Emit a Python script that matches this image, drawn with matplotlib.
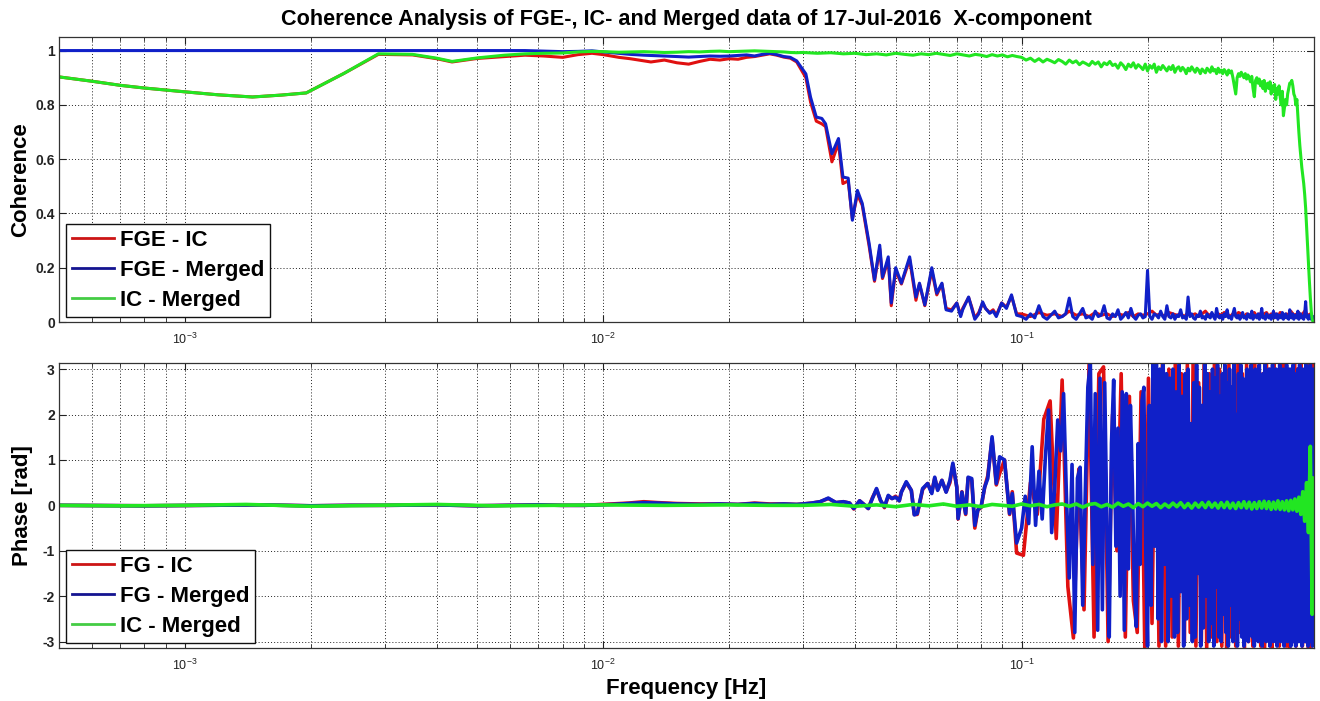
import numpy as np
import matplotlib
matplotlib.use("Agg")
import matplotlib.pyplot as plt
from matplotlib.lines import Line2D
from matplotlib.ticker import LogLocator, NullFormatter

plt.rcParams['font.family'] = ['Liberation Sans', 'DejaVu Sans']
plt.rcParams['mathtext.fontset'] = 'custom'
plt.rcParams['mathtext.rm'] = 'Liberation Sans'
plt.rcParams['mathtext.it'] = 'Liberation Sans'

# ---------------- data: coherence ----------------
F_LOW = [5.0e-4, 6.0e-4, 7.0e-4, 8.0e-4, 1.0e-3, 1.2e-3, 1.45e-3, 1.7e-3, 1.95e-3, 2.4e-3,
         2.9e-3, 3.5e-3, 4.0e-3, 4.35e-3, 5.0e-3, 5.8e-3, 6.5e-3, 7.2e-3, 8.0e-3, 8.7e-3,
         9.4e-3, 1.0e-2, 1.09e-2, 1.16e-2, 1.25e-2, 1.3e-2, 1.4e-2, 1.5e-2, 1.6e-2, 1.7e-2,
         1.8e-2, 1.9e-2, 2.0e-2, 2.1e-2, 2.2e-2, 2.3e-2, 2.4e-2, 2.5e-2, 2.6e-2, 2.7e-2,
         2.8e-2, 2.9e-2]
COH_GREEN_LOW = [0.903, 0.887, 0.872, 0.862, 0.848, 0.837, 0.829, 0.836, 0.844, 0.916,
                 0.988, 0.986, 0.972, 0.960, 0.973, 0.983, 0.988, 0.990, 0.991, 0.995,
                 0.997, 0.996, 0.994, 0.995, 0.996, 0.995, 0.993, 0.994, 0.996, 0.995,
                 0.997, 0.998, 0.996, 0.997, 0.998, 0.999, 0.998, 0.997, 0.996, 0.995,
                 0.993, 0.992]
COH_BLUE_LOW = [1.0, 1.0, 1.0, 1.0, 1.0, 1.0, 1.0, 1.0, 1.0, 1.0,
                1.0, 1.0, 1.0, 1.0, 1.0, 1.0, 1.0, 0.998, 0.996, 0.997,
                0.999, 0.995, 0.99, 0.986, 0.983, 0.982, 0.98, 0.978, 0.976, 0.978,
                0.98, 0.979, 0.98, 0.982, 0.984, 0.98, 0.986, 0.99, 0.985, 0.978,
                0.975, 0.962]
COH_RED_LOW = [0.903, 0.887, 0.872, 0.862, 0.848, 0.837, 0.829, 0.836, 0.844, 0.916,
               0.986, 0.984, 0.970, 0.958, 0.971, 0.978, 0.983, 0.980, 0.975, 0.985,
               0.99, 0.985, 0.975, 0.97, 0.962, 0.958, 0.965, 0.955, 0.95, 0.96,
               0.968, 0.965, 0.97, 0.968, 0.975, 0.978, 0.983, 0.988, 0.983, 0.976,
               0.972, 0.958]

F_MID = [0.0305, 0.0313, 0.0323, 0.0333, 0.034, 0.0352, 0.0365, 0.0374, 0.0385, 0.0394,
         0.0405, 0.0416, 0.0432, 0.0445, 0.0458, 0.0465, 0.048, 0.0488, 0.050, 0.0516,
         0.054, 0.0559, 0.057, 0.0587, 0.061, 0.0627, 0.0645, 0.066, 0.068, 0.070,
         0.0715, 0.0723, 0.0747, 0.076, 0.0773, 0.079, 0.0807, 0.082, 0.0839, 0.0855,
         0.087, 0.0896, 0.092, 0.0946, 0.0973]
COH_BLUE_MID = [0.914, 0.828, 0.755, 0.75, 0.73, 0.62, 0.676, 0.534, 0.53, 0.375,
                0.485, 0.437, 0.29, 0.155, 0.283, 0.165, 0.24, 0.07, 0.2, 0.143,
                0.24, 0.092, 0.143, 0.063, 0.2, 0.106, 0.143, 0.045, 0.04, 0.07,
                0.02, 0.045, 0.092, 0.05, 0.01, 0.03, 0.074, 0.05, 0.032, 0.04,
                0.02, 0.07, 0.05, 0.1, 0.025]
COH_RED_MID = [0.9, 0.81, 0.74, 0.73, 0.72, 0.59, 0.66, 0.51, 0.52, 0.38,
               0.47, 0.43, 0.28, 0.15, 0.27, 0.16, 0.23, 0.06, 0.19, 0.14,
               0.23, 0.08, 0.14, 0.06, 0.19, 0.1, 0.14, 0.05, 0.045, 0.07,
               0.025, 0.05, 0.09, 0.055, 0.015, 0.035, 0.07, 0.05, 0.035, 0.045,
               0.025, 0.07, 0.055, 0.095, 0.03]
# IC - Merged, 0.03 Hz .. 0.0975 Hz in 0.0025 Hz bins
COH_GREEN_MID = [0.993, 0.99, 0.992, 0.988, 0.99, 0.985, 0.988, 0.984, 0.99, 0.986,
                 0.983, 0.988, 0.985, 0.99, 0.986, 0.982, 0.988, 0.984, 0.98, 0.986,
                 0.983, 0.978, 0.985, 0.98, 0.984, 0.977, 0.982, 0.978]

# 0.1 Hz .. 0.5 Hz in 0.0025 Hz bins
COH_BLUE_HIGH = [0.02, 0.01, 0.03, 0.015, 0.06, 0.02, 0.01, 0.025, 0.04, 0.015,
                 0.02, 0.03, 0.088, 0.02, 0.01, 0.03, 0.05, 0.015, 0.02, 0.01,
                 0.04, 0.02, 0.025, 0.06, 0.015, 0.01, 0.03, 0.02, 0.045, 0.01,
                 0.02, 0.035, 0.015, 0.05, 0.02, 0.01, 0.025, 0.03, 0.015, 0.02,
                 0.19, 0.02, 0.01, 0.03, 0.025, 0.015, 0.04, 0.02, 0.01, 0.06,
                 0.02, 0.015, 0.03, 0.01, 0.025, 0.02, 0.045, 0.015, 0.02, 0.01,
                 0.092, 0.02, 0.03, 0.015, 0.01, 0.025, 0.02, 0.04, 0.015, 0.02,
                 0.01, 0.03, 0.02, 0.015, 0.035, 0.02, 0.01, 0.05, 0.02, 0.015,
                 0.025, 0.01, 0.03, 0.02, 0.045, 0.015, 0.02, 0.01, 0.03, 0.05,
                 0.02, 0.015, 0.025, 0.01, 0.02, 0.035, 0.015, 0.02, 0.01, 0.03,
                 0.02, 0.015, 0.04, 0.01, 0.025, 0.02, 0.015, 0.03, 0.01, 0.02,
                 0.05, 0.015, 0.02, 0.01, 0.03, 0.02, 0.015, 0.025, 0.01, 0.02,
                 0.04, 0.015, 0.02, 0.03, 0.01, 0.025, 0.02, 0.015, 0.035, 0.01,
                 0.02, 0.03, 0.015, 0.02, 0.01, 0.045, 0.02, 0.015, 0.03, 0.01,
                 0.02, 0.025, 0.015, 0.04, 0.01, 0.02, 0.03, 0.015, 0.02, 0.01,
                 0.03, 0.075, 0.02, 0.015, 0.01, 0.025, 0.02, 0.01, 0.015, 0.02,
                 0.0]
# 0.1 Hz .. 0.5 Hz in 0.005 Hz bins
COH_RED_HIGH = [0.03, 0.02, 0.035, 0.025, 0.03, 0.02, 0.04, 0.025, 0.03, 0.02,
                0.035, 0.025, 0.03, 0.02, 0.03, 0.025, 0.035, 0.02, 0.03, 0.025,
                0.03, 0.04, 0.025, 0.03, 0.02, 0.035, 0.03, 0.025, 0.03, 0.02,
                0.035, 0.025, 0.03, 0.02, 0.03, 0.04, 0.025, 0.03, 0.02, 0.03,
                0.025, 0.035, 0.03, 0.02, 0.03, 0.025, 0.035, 0.03, 0.02, 0.03,
                0.025, 0.03, 0.035, 0.02, 0.03, 0.025, 0.03, 0.035, 0.02, 0.03,
                0.025, 0.03, 0.02, 0.035, 0.03, 0.025, 0.03, 0.02, 0.04, 0.03,
                0.025, 0.03, 0.035, 0.02, 0.03, 0.04, 0.03, 0.025, 0.03, 0.02,
                0.0]
# 0.1 Hz .. 0.5 Hz in 0.0025 Hz bins
COH_GREEN_HIGH = [0.975, 0.965, 0.972, 0.96, 0.97, 0.958, 0.968, 0.962, 0.955, 0.967,
                  0.96, 0.95, 0.965, 0.955, 0.962, 0.948, 0.958, 0.952, 0.945, 0.96,
                  0.95, 0.958, 0.94, 0.955, 0.948, 0.96, 0.945, 0.95, 0.935, 0.955,
                  0.945, 0.93, 0.95, 0.94, 0.955, 0.935, 0.948, 0.94, 0.93, 0.95,
                  0.925, 0.945, 0.935, 0.95, 0.92, 0.94, 0.93, 0.945, 0.935, 0.925,
                  0.94, 0.93, 0.945, 0.92, 0.935, 0.94, 0.925, 0.938, 0.93, 0.915,
                  0.935, 0.925, 0.94, 0.93, 0.92, 0.935, 0.928, 0.915, 0.932, 0.925,
                  0.918, 0.935, 0.928, 0.92, 0.94, 0.925, 0.93, 0.915, 0.935, 0.92,
                  0.928, 0.915, 0.93, 0.922, 0.91, 0.928, 0.918, 0.925, 0.9, 0.87,
                  0.84, 0.9, 0.915, 0.905, 0.92, 0.91, 0.9, 0.915, 0.895, 0.91,
                  0.9, 0.885, 0.905, 0.86, 0.83, 0.89, 0.9, 0.88, 0.895, 0.87,
                  0.885, 0.86, 0.89, 0.85, 0.875, 0.88, 0.86, 0.885, 0.84, 0.87,
                  0.85, 0.875, 0.82, 0.86, 0.84, 0.87, 0.83, 0.8, 0.85, 0.76,
                  0.79, 0.82, 0.8, 0.84, 0.86, 0.88, 0.88, 0.89, 0.87, 0.84,
                  0.83, 0.8, 0.82, 0.76, 0.7, 0.65, 0.61, 0.57, 0.54, 0.51,
                  0.47, 0.42, 0.35, 0.28, 0.21, 0.15, 0.09, 0.04, 0.01, 0.0,
                  0.0]

# ---------------- data: phase ----------------
F_PH_LOW = [5e-4, 8e-4, 1.1e-3, 1.5e-3, 2e-3, 2.5e-3, 3e-3, 4e-3, 5e-3, 6e-3,
            7e-3, 8e-3, 9e-3, 0.0105, 0.0115, 0.0125, 0.0135, 0.015, 0.017, 0.019,
            0.021, 0.023, 0.025, 0.027, 0.029]
PH_BLUE_LOW = [0.0, -0.01, 0.0, 0.01, -0.01, 0.0, 0.0, 0.01, -0.01, 0.0,
               0.01, 0.0, 0.0, 0.02, 0.04, 0.06, 0.05, 0.03, 0.02, 0.03,
               0.02, 0.04, 0.02, 0.03, 0.02]
PH_RED_LOW = [0.0, -0.01, 0.0, 0.01, -0.01, 0.0, 0.0, 0.01, -0.01, 0.0,
              0.01, 0.0, 0.0, 0.03, 0.05, 0.08, 0.06, 0.04, 0.03, 0.03,
              0.02, 0.05, 0.03, 0.03, 0.02]
F_PH_GREEN_LOW = [5e-4, 7e-4, 1e-3, 1.4e-3, 2e-3, 2.8e-3, 4e-3, 5.5e-3, 7.5e-3, 0.01,
                  0.014, 0.02, 0.025]
PH_GREEN_LOW = [0.0, -0.01, 0.0, 0.02, -0.02, 0.0, 0.02, -0.01, 0.0, 0.01,
                0.0, 0.01, 0.0]

F_PH_MID = [0.030, 0.0315, 0.033, 0.0345, 0.036, 0.0375, 0.0388, 0.0397, 0.041, 0.042,
            0.043, 0.044, 0.045, 0.046, 0.047, 0.048, 0.049, 0.050, 0.051, 0.0516,
            0.053, 0.0545, 0.0554, 0.0563, 0.058, 0.0596, 0.061, 0.062, 0.063, 0.0645,
            0.066, 0.0674, 0.0685, 0.070, 0.0705, 0.072, 0.0735, 0.0745, 0.076, 0.0773,
            0.0786, 0.080, 0.0816, 0.083, 0.085, 0.087, 0.0886, 0.091, 0.0936, 0.095,
            0.0973]
PH_BLUE_MID = [0.03, 0.05, 0.08, 0.16, 0.06, 0.08, 0.05, -0.07, 0.1, 0.02,
               -0.07, 0.15, 0.37, 0.11, -0.03, 0.22, 0.15, 0.18, 0.1, 0.29,
               0.52, 0.33, -0.21, -0.18, 0.37, 0.48, 0.26, 0.62, 0.33, 0.55,
               0.29, 0.55, 0.93, 0.4, -0.29, 0.29, -0.18, 0.62, 0.59, -0.44,
               -0.1, -0.03, 0.4, 0.59, 1.51, 0.48, 1.07, 1.0, -0.18, 0.26,
               -0.83]
PH_RED_MID = [0.03, 0.05, 0.08, 0.15, 0.06, 0.08, 0.05, -0.08, 0.1, 0.02,
              -0.07, 0.17, 0.35, 0.11, -0.05, 0.2, 0.15, 0.2, 0.1, 0.3,
              0.5, 0.33, -0.2, -0.2, 0.35, 0.48, 0.3, 0.6, 0.35, 0.55,
              0.3, 0.5, 0.9, 0.4, -0.3, 0.3, -0.2, 0.6, 0.55, -0.5,
              -0.1, -0.05, 0.4, 0.65, 1.45, 0.45, 0.7, 1.0, -0.2, 0.3,
              -1.05]

# FG - Merged, 0.1 Hz .. 0.5 Hz in 0.002 Hz bins
PH_BLUE_HIGH = [-0.5, 0.2, -0.4, 1.29, -0.44, 0.75, -0.3, 1.07, 2.1, -0.6,
                0.4, 1.88, 1.2, 2.46, 0.2, -1.6, 0.9, -2.8, 0.6, 0.84,
                -2.2, 0.3, 2.6, 3.14, -1.3, 2.46, -2.75, 2.8, -2.3, 2.7,
                -0.6, -2.9, 1.36, 2.76, -0.9, 1.7, -2.0, 2.5, -2.75, 2.46,
                -1.4, 2.2, 0.5, -1.8, -2.67, 1.36, -1.3, 2.3, 2.6, -0.9,
                -3.1, 2.2, -2.2, 3.1, -0.9, 3.14, -2.5, 3.0, -3.0, 3.14,
                -1.3, 2.9, -3.0, 2.8, -2.0, 3.0, -2.9, 2.5,
                -2.8, 3.1, -1.9, 2.4, -3.1, 2.9, -2.5, 3.0, -2.2, 1.8, -3.0, 2.7,
                -2.9, 3.1, -1.5, 2.6, -3.1, 2.2, -2.7, 3.14, -2.0, 2.9, -3.0, 2.5,
                -2.6, 3.0, -3.1, 2.8, -1.8, 3.1, -2.9, 2.4, -3.0, 2.9, -2.4, 3.1,
                -2.8, 2.7, -3.1, 3.0, -2.2, 2.6, -3.0, 3.14, -2.7, 2.0, -3.1, 2.9,
                -2.5, 3.1, -2.9, 2.8, -3.1, 2.5, -2.6, 3.0, -3.0, 2.9, -2.2, 3.1,
                -2.9, 2.7, -3.1, 3.0, -2.6, 2.8, -3.0, 3.1, -2.8, 2.4, -3.1, 2.9,
                -2.7, 3.1, -3.0, 2.6, -2.9, 3.0, -3.1, 2.8, -2.5, 3.1, -3.0, 2.9,
                -2.8, 3.0, -3.1, 2.7, -2.9, 3.1, -3.0, 2.9, -2.6, 3.0, -3.1, 2.8,
                -2.9, 3.1, -3.0, 2.5, -2.8, 3.0, -3.1, 2.9, -2.7, 3.1, -3.0, 2.8,
                -3.1, 2.9, -2.8, 3.0, -3.0, 3.1, -2.9, 2.7, -3.1, 3.0, -2.8, 2.9,
                -3.0, 3.1, -2.9, 2.8, -3.1, 3.0, -2.8, 3.1, -3.0, 2.9, -3.1, 3.0, -2.9]
# FG - IC, 0.101 Hz .. 0.497 Hz in 0.004 Hz bins
PH_RED_HIGH = [-1.1, 0.5, -0.2, 1.9, 2.3, -0.73, 2.76, -1.79, -2.92, 0.8,
               -2.3, 3.14, -2.9, 2.9, 3.05, -3.0, 2.0, -1.0, 2.9, -2.9,
               2.4, -2.1, -2.8, 2.5, -3.14, 2.8, -2.6, 3.14, -3.1, 3.1,
               -3.1,
               3.0, -2.9, 3.14, -3.1, 2.9, -3.0, 3.1, -2.8, 3.14, -3.1, 2.7, -3.0,
               3.1, -3.14, 2.9, -2.9, 3.14, -3.0, 3.0, -3.1, 2.8, -3.14, 3.1, -2.9,
               3.0, -3.1, 3.14, -2.8, 2.9, -3.14, 3.1, -3.0, 2.8, -3.1, 3.14, -2.9,
               3.0, -3.1, 2.9, -3.14, 3.1, -2.9, 3.0, -3.14, 3.14, -3.0, 2.8, -3.1,
               3.1, -2.9, 3.14, -3.1, 3.0, -3.14, 2.9, -3.0, 3.14, -3.1, 3.0, -2.9,
               3.14, -3.1, 2.9, -3.0, 3.1, -3.14, 3.0, -3.1, 3.14]
# IC - Merged, 0.03 Hz .. 0.5 Hz in 0.005 Hz bins
PH_GREEN_HIGH = [0.0, 0.02, -0.02, 0.01, -0.03, 0.02, -0.01, 0.03, -0.02, 0.01,
                 -0.03, 0.02, 0.0, -0.02, 0.03, -0.01, 0.02, -0.03, 0.01, 0.03,
                 -0.02, 0.03, -0.04, 0.02, 0.04, -0.03, 0.02, -0.04, 0.05, -0.02,
                 0.03, -0.05, 0.04, -0.03, 0.05, -0.02, 0.04, -0.05, 0.03, -0.04,
                 0.05, -0.03, 0.06, -0.05, 0.04, -0.06, 0.05, -0.04, 0.06, -0.05,
                 0.07, -0.04, 0.05, -0.06, 0.06, -0.05, 0.07, -0.06, 0.05, -0.07,
                 0.06, -0.05, 0.08, -0.06, 0.07, -0.08, 0.06, -0.07, 0.08, -0.06,
                 0.09, -0.07, 0.08, -0.09, 0.07, -0.08, 0.1, -0.09, 0.08, -0.1,
                 0.1, -0.12, 0.11, -0.1, 0.14, -0.13, 0.18, -0.2, 0.3, -0.35,
                 0.5, -0.6, 1.3, -2.4, 0.6]

# ---------------- text ----------------
TITLE = "Coherence Analysis of FGE-, IC- and Merged data of 17-Jul-2016  X-component"
LEG_TOP = ["FGE - IC", "FGE - Merged", "IC - Merged"]
LEG_BOT = ["FG - IC", "FG - Merged", "IC - Merged"]
COH_TICKS = [0, 0.2, 0.4, 0.6, 0.8, 1.0]
COH_TICKLABELS = ["0", "0.2", "0.4", "0.6", "0.8", "1"]
PH_TICKS = [-3, -2, -1, 0, 1, 2, 3]
PH_TICKLABELS = ["-3", "-2", "-1", "0", "1", "2", "3"]

RED = '#E01010'
BLUE = '#1020C8'
GREEN = '#22E622'
LEG_COLORS = ['#CC1515', '#141490', '#44CC44']

# ---------------- assemble series ----------------
coh_red_f = np.concatenate([F_LOW, F_MID, 0.1 + 0.005 * np.arange(len(COH_RED_HIGH))])
coh_red = np.concatenate([COH_RED_LOW, COH_RED_MID, COH_RED_HIGH])
coh_blue_f = np.concatenate([F_LOW, F_MID, 0.1 + 0.0025 * np.arange(len(COH_BLUE_HIGH))])
coh_blue = np.concatenate([COH_BLUE_LOW, COH_BLUE_MID, COH_BLUE_HIGH])
coh_green_f = np.concatenate([F_LOW, 0.03 + 0.0025 * np.arange(len(COH_GREEN_MID)),
                              0.1 + 0.0025 * np.arange(len(COH_GREEN_HIGH))])
coh_green = np.concatenate([COH_GREEN_LOW, COH_GREEN_MID, COH_GREEN_HIGH])

ph_red_f = np.concatenate([F_PH_LOW, F_PH_MID, 0.101 + 0.004 * np.arange(len(PH_RED_HIGH))])
ph_red = np.concatenate([PH_RED_LOW, PH_RED_MID, PH_RED_HIGH])
ph_blue_f = np.concatenate([F_PH_LOW, F_PH_MID, 0.1 + 0.002 * np.arange(len(PH_BLUE_HIGH))])
ph_blue = np.concatenate([PH_BLUE_LOW, PH_BLUE_MID, PH_BLUE_HIGH])
ph_green_f = np.concatenate([F_PH_GREEN_LOW, 0.03 + 0.005 * np.arange(len(PH_GREEN_HIGH))])
ph_green = np.concatenate([PH_GREEN_LOW, PH_GREEN_HIGH])

# ---------------- figure ----------------
W, H = 1320, 701
fig = plt.figure(figsize=(W / 100, H / 100), dpi=100)
fig.patch.set_facecolor('white')
ax1 = fig.add_axes([59 / W, (H - 322) / H, 1255 / W, 285 / H])
ax2 = fig.add_axes([59 / W, (H - 648) / H, 1255 / W, 285.3 / H])

LW = 2.2
LW_PH = 2.6
ax1.plot(coh_red_f, coh_red, color=RED, lw=LW)
ax1.plot(coh_blue_f, coh_blue, color=BLUE, lw=LW)
ax1.plot(coh_green_f, coh_green, color=GREEN, lw=LW)

ax2.plot(ph_red_f, ph_red, color=RED, lw=LW_PH)
ax2.plot(ph_blue_f, ph_blue, color=BLUE, lw=LW_PH)
ax2.plot(ph_green_f, ph_green, color=GREEN, lw=LW_PH)


def style(ax):
    ax.set_xscale('log')
    ax.set_xlim(5e-4, 0.5)
    ax.xaxis.set_major_locator(LogLocator(base=10, numticks=10))
    ax.xaxis.set_minor_locator(LogLocator(base=10, subs=np.arange(2, 10), numticks=100))
    ax.xaxis.set_minor_formatter(NullFormatter())
    gl = dict(color='#222222', linestyle=(0, (1, 2.2)), linewidth=0.7)
    ax.grid(True, which='major', axis='both', **gl)
    ax.grid(True, which='minor', axis='x', **gl)
    ax.tick_params(which='both', direction='in', top=True, right=True, colors='#222222')
    ax.tick_params(which='major', length=5, width=0.8)
    ax.tick_params(which='minor', length=3, width=0.6)
    ax.tick_params(axis='x', which='major', labelsize=9, pad=7)
    ax.tick_params(axis='y', which='major', pad=3)
    for s in ax.spines.values():
        s.set_linewidth(0.9)
        s.set_color('#333333')


style(ax1)
style(ax2)
ax1.set_ylim(0, 1.05)
ax1.set_yticks(COH_TICKS, COH_TICKLABELS, fontsize=10, fontweight='bold')
ax2.set_ylim(-np.pi, np.pi)
ax2.set_yticks(PH_TICKS, PH_TICKLABELS, fontsize=10, fontweight='bold')

ax1.set_title(TITLE, fontsize=15.6, fontweight='bold', pad=8.6)
ax1.set_ylabel("Coherence", fontsize=16, fontweight='bold')
ax2.set_ylabel("Phase [rad]", fontsize=16, fontweight='bold')
ax2.set_xlabel("Frequency [Hz]", fontsize=16, fontweight='bold')
ax1.yaxis.set_label_coords(-0.022, 0.5)
ax2.yaxis.set_label_coords(-0.021, 0.5)
ax2.xaxis.set_label_coords(0.5, -0.105)


def legend(ax, labels):
    handles = [Line2D([], [], color=c, lw=2.0) for c in LEG_COLORS]
    lg = ax.legend(handles, labels, loc='lower left', bbox_to_anchor=(0.0056, 0.0175),
                   borderaxespad=0, fancybox=False, framealpha=1, edgecolor='#111111',
                   prop=dict(size=16, weight='bold'), handlelength=1.9,
                   handletextpad=0.25, labelspacing=0.42, borderpad=0.26)
    lg.get_frame().set_linewidth(1.0)
    return lg


legend(ax1, LEG_TOP)
legend(ax2, LEG_BOT)

fig.savefig("out.png", dpi=100, facecolor='white')
